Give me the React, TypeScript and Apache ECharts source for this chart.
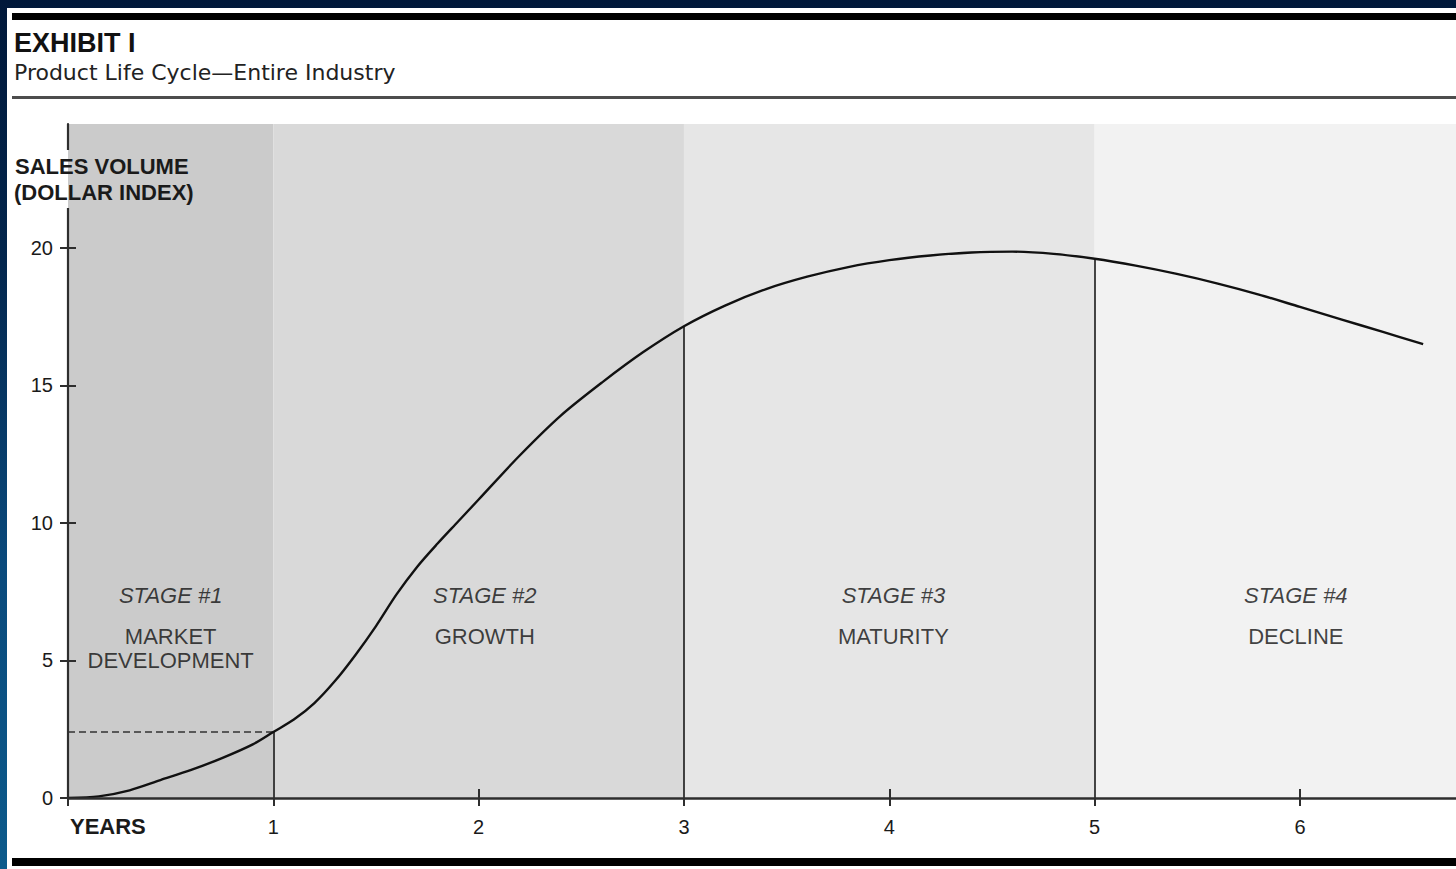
import React, { useEffect, useRef } from "react";
import * as echarts from "echarts";

// ---- data ----
const years = [0, 0.15, 0.3, 0.45, 0.6, 0.75, 0.9, 1.0, 1.1, 1.2, 1.3, 1.4, 1.5, 1.6, 1.7, 1.8, 1.9, 2.0, 2.2, 2.4, 2.6, 2.8, 3.0, 3.2, 3.4, 3.6, 3.8, 4.0, 4.2, 4.4, 4.6, 4.8, 5.0, 5.2, 5.4, 5.6, 5.8, 6.0, 6.2, 6.4, 6.6];
const sales = [0, 0.06, 0.28, 0.65, 1.02, 1.45, 1.95, 2.4, 2.85, 3.45, 4.25, 5.2, 6.25, 7.4, 8.4, 9.25, 10.05, 10.85, 12.45, 13.9, 15.1, 16.2, 17.15, 17.9, 18.5, 18.95, 19.3, 19.55, 19.72, 19.83, 19.86, 19.78, 19.6, 19.35, 19.05, 18.7, 18.3, 17.85, 17.4, 16.95, 16.5];

const stageStarts = [0, 1, 3, 5];
const stageEnds = [1, 3, 5, 6.76];
const stageTitles = ["STAGE #1", "STAGE #2", "STAGE #3", "STAGE #4"];
const stageNames = ["MARKET\nDEVELOPMENT", "GROWTH", "MATURITY", "DECLINE"];
const stageLabelYears = [0.5, 2.03, 4.02, 5.98];
const stageLabelLevel = 8.4;
const boundaryYears = [1, 3, 5];
const dashedRefYear = 1;

const xTickValues = [0, 1, 2, 3, 4, 5, 6];
const xLabelValues = [1, 2, 3, 4, 5, 6];
const xInnerTickValues = [2, 4, 6];
const yTickValues = [0, 5, 10, 15, 20];
const yInnerTickValues = [5, 10, 15, 20];

const X_MAX = 6.76;
const Y_MAX = 24.5;

const title = "EXHIBIT I";
const subtitle = "Product Life Cycle\u2014Entire Industry";
const yTitleLines = ["SALES VOLUME", "(DOLLAR INDEX)"];
const xTitle = "YEARS";

// ---- styles ----
const FONT = '"Liberation Sans", Arial, Helvetica, sans-serif';
const SUB_FONT = '"DejaVu Sans", "Liberation Sans", sans-serif';
const bandColors = ["#cbcbcb", "#d9d9d9", "#e6e6e6", "#f2f2f2"];
const INK = "#1a1a1a";
const AXIS = "#2e2e2e";

function valueAt(x: number): number {
  const i = years.indexOf(x);
  return i >= 0 ? sales[i] : 0;
}

export default function App() {
  const ref = useRef<HTMLDivElement>(null);

  useEffect(() => {
    if (!ref.current) return;
    const chart = echarts.init(ref.current, null, { renderer: "svg" });

    const curve = years.map((x, i) => [x, sales[i]]);

    const bands = stageStarts.map((s, i) => [
      { xAxis: s, itemStyle: { color: bandColors[i] } },
      { xAxis: stageEnds[i] },
    ]);

    const verticals = boundaryYears.map((b) => [
      { coord: [b, 0], lineStyle: { color: INK, width: 1.6, type: "solid" } },
      { coord: [b, valueAt(b)] },
    ]);
    const dashed = [
      { coord: [0, valueAt(dashedRefYear)], lineStyle: { color: "#333", width: 1.6, type: [7, 4] } },
      { coord: [dashedRefYear, valueAt(dashedRefYear)] },
    ];

    const stageLabelData = stageLabelYears.map((x, i) => ({
      value: [x, stageLabelLevel],
      name: stageTitles[i],
    }));

    const tickLine = { color: AXIS, width: 2 };

    const option: any = {
      animation: false,
      grid: {
        left: 68,
        right: 0,
        top: 124,
        bottom: 71,
        containLabel: false,
        outerBoundsMode: "none",
      },
      xAxis: [
        {
          type: "value",
          min: 0,
          max: X_MAX,
          position: "bottom",
          z: 10,
          axisLine: { show: true, onZero: false, lineStyle: { color: AXIS, width: 2.5 } },
          axisTick: { show: true, inside: false, length: 8, customValues: xTickValues, lineStyle: tickLine },
          axisLabel: {
            show: true,
            customValues: xLabelValues,
            fontSize: 20,
            fontFamily: FONT,
            color: INK,
            margin: 19,
          },
          splitLine: { show: false },
        },
        {
          type: "value",
          min: 0,
          max: X_MAX,
          position: "bottom",
          offset: 0,
          z: 10,
          axisLine: { show: false },
          axisTick: { show: true, inside: true, length: 9, customValues: xInnerTickValues, lineStyle: tickLine },
          axisLabel: { show: false },
          splitLine: { show: false },
        },
      ],
      yAxis: [
        {
          type: "value",
          min: 0,
          max: Y_MAX,
          position: "left",
          z: 10,
          axisLine: { show: true, onZero: false, lineStyle: { color: AXIS, width: 2.2 } },
          axisTick: { show: true, inside: false, length: 8, customValues: yTickValues, lineStyle: tickLine },
          axisLabel: {
            show: true,
            customValues: yTickValues,
            fontSize: 20,
            fontFamily: FONT,
            color: INK,
            margin: 15,
          },
          splitLine: { show: false },
        },
        {
          type: "value",
          min: 0,
          max: Y_MAX,
          position: "left",
          offset: 0,
          z: 10,
          axisLine: { show: false },
          axisTick: { show: true, inside: true, length: 8, customValues: yInnerTickValues, lineStyle: tickLine },
          axisLabel: { show: false },
          splitLine: { show: false },
        },
      ],
      series: [
        {
          type: "line",
          name: "Sales volume",
          xAxisIndex: 0,
          yAxisIndex: 0,
          data: curve,
          smooth: 0.3,
          symbol: "none",
          z: 5,
          lineStyle: { color: "#111", width: 2.4 },
          markArea: {
            silent: true,
            z: 1,
            label: { show: false },
            data: bands,
          },
          markLine: {
            silent: true,
            symbol: ["none", "none"],
            label: { show: false },
            data: [...verticals, dashed],
          },
        },
        {
          type: "scatter",
          name: "Stages",
          xAxisIndex: 0,
          yAxisIndex: 0,
          symbolSize: 0,
          itemStyle: { color: "rgba(0,0,0,0)" },
          silent: true,
          z: 6,
          data: stageLabelData,
          label: {
            show: true,
            position: "bottom",
            distance: 0,
            align: "center",
            formatter: (p: any) => {
              const i = p.dataIndex;
              const nameLines = stageNames[i].split("\n").map((l) => `{n|${l}}`).join("\n");
              return `{t|${stageTitles[i]}}\n${nameLines}`;
            },
            rich: {
              t: {
                fontSize: 22,
                fontStyle: "italic",
                fontFamily: FONT,
                color: "#111",
                lineHeight: 58,
                align: "center",
              },
              n: {
                fontSize: 22,
                fontFamily: FONT,
                color: "#111",
                lineHeight: 24,
                align: "center",
              },
            },
          },
        },
      ],
      graphic: [
        { type: "rect", z: 50, shape: { x: 12, y: 13, width: 1444, height: 7 }, style: { fill: "#000" } },
        { type: "rect", z: 50, shape: { x: 12, y: 96, width: 1444, height: 3 }, style: { fill: "#4d4d4d" } },
        { type: "rect", z: 50, shape: { x: 12, y: 858, width: 1444, height: 8 }, style: { fill: "#000" } },
        { type: "rect", z: 50, shape: { x: 65, y: 150, width: 3, height: 58 }, style: { fill: "#ffffff" } },
        { type: "rect", z: 50, shape: { x: 68, y: 150, width: 3, height: 58 }, style: { fill: bandColors[0] } },
        {
          type: "text",
          z: 60,
          x: 14,
          y: 42.5,
          style: { text: title, fontSize: 27, fontWeight: "bold", fontFamily: FONT, fill: "#111", verticalAlign: "middle" },
        },
        {
          type: "text",
          z: 60,
          x: 14,
          y: 72,
          style: { text: subtitle, fontSize: 22, fontFamily: SUB_FONT, fill: "#222", verticalAlign: "middle" },
        },
        {
          type: "text",
          z: 60,
          x: 15,
          y: 166,
          style: { text: yTitleLines[0], fontSize: 22, fontWeight: "bold", fontFamily: FONT, fill: INK, verticalAlign: "middle" },
        },
        {
          type: "text",
          z: 60,
          x: 14,
          y: 192,
          style: { text: yTitleLines[1], fontSize: 22, fontWeight: "bold", fontFamily: FONT, fill: INK, verticalAlign: "middle" },
        },
        {
          type: "text",
          z: 60,
          x: 70,
          y: 826.5,
          style: { text: xTitle, fontSize: 22, fontWeight: "bold", fontFamily: FONT, fill: INK, verticalAlign: "middle" },
        },
      ],
    };

    chart.setOption(option);
    return () => chart.dispose();
  }, []);

  return (
    <div
      style={{
        position: "fixed",
        left: 0,
        top: 0,
        width: 1456,
        height: 869,
        overflow: "hidden",
        background: "linear-gradient(180deg, #00183a 0%, #03264d 30%, #0a4a7c 65%, #0c5a8b 100%)",
      }}
    >
      <div style={{ position: "absolute", left: 7, top: 8, right: 0, bottom: 0, background: "#ffffff" }} />
      <div ref={ref} style={{ position: "absolute", left: 0, top: 0, width: 1456, height: 869 }} />
    </div>
  );
}
